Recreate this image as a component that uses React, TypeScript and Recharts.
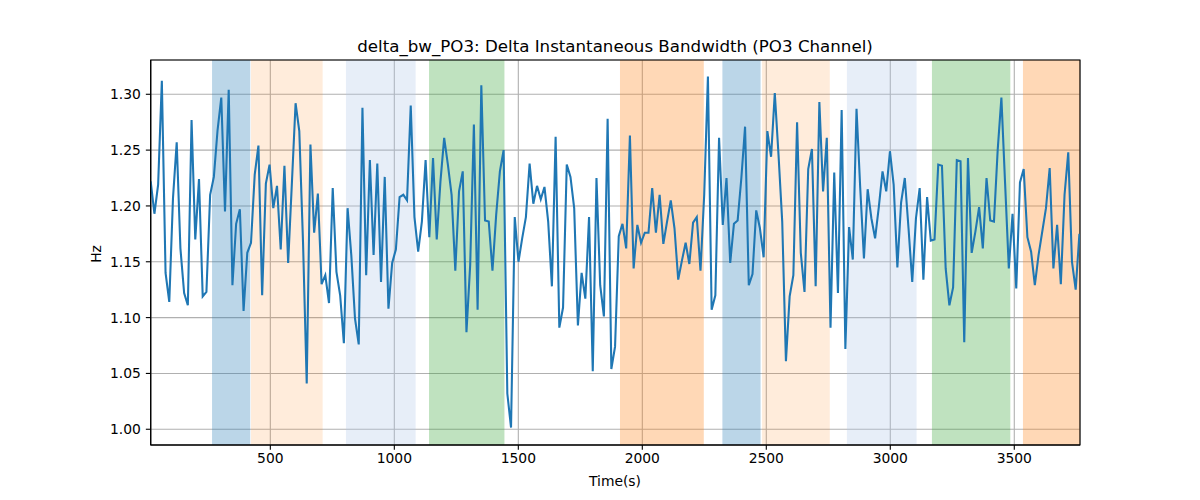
import React from "react";
import { LineChart, Line, XAxis, YAxis, CartesianGrid, ReferenceArea } from "recharts";

const bandwidth: number[] = [
  1.222, 1.193, 1.219, 1.312, 1.140, 1.114, 1.207, 1.257, 1.162, 1.122,
  1.111, 1.277, 1.170, 1.224, 1.119, 1.123, 1.210, 1.226, 1.268, 1.297,
  1.195, 1.304, 1.129, 1.184, 1.197, 1.106, 1.158, 1.167, 1.228, 1.254,
  1.120, 1.220, 1.237, 1.198, 1.218, 1.161, 1.236, 1.149, 1.220, 1.292,
  1.267, 1.168, 1.041, 1.255, 1.176, 1.211, 1.130, 1.138, 1.113, 1.216,
  1.141, 1.120, 1.077, 1.198, 1.156, 1.099, 1.076, 1.288, 1.138, 1.241,
  1.156, 1.238, 1.132, 1.226, 1.108, 1.149, 1.161, 1.208, 1.210, 1.205,
  1.290, 1.190, 1.159, 1.186, 1.241, 1.172, 1.243, 1.170, 1.222, 1.261,
  1.237, 1.210, 1.142, 1.213, 1.231, 1.087, 1.147, 1.273, 1.107, 1.308,
  1.187, 1.186, 1.142, 1.192, 1.231, 1.250, 1.032, 1.0015, 1.190, 1.150,
  1.171, 1.190, 1.238, 1.202, 1.218, 1.206, 1.217, 1.186, 1.128, 1.262,
  1.091, 1.109, 1.237, 1.226, 1.198, 1.093, 1.140, 1.117, 1.190, 1.052,
  1.225, 1.129, 1.101, 1.278, 1.054, 1.074, 1.173, 1.184, 1.162, 1.263,
  1.144, 1.183, 1.167, 1.176, 1.176, 1.216, 1.176, 1.210, 1.166, 1.186,
  1.205, 1.180, 1.134, 1.151, 1.167, 1.148, 1.185, 1.190, 1.142, 1.210,
  1.316, 1.107, 1.120, 1.261, 1.183, 1.225, 1.149, 1.184, 1.187, 1.225,
  1.271, 1.129, 1.139, 1.196, 1.180, 1.154, 1.267, 1.244, 1.301, 1.246,
  1.186, 1.061, 1.119, 1.138, 1.275, 1.158, 1.123, 1.233, 1.251, 1.128,
  1.293, 1.213, 1.261, 1.091, 1.230, 1.122, 1.286, 1.072, 1.181, 1.152,
  1.287, 1.216, 1.153, 1.215, 1.189, 1.171, 1.199, 1.231, 1.213, 1.249,
  1.219, 1.145, 1.203, 1.225, 1.180, 1.132, 1.189, 1.216, 1.134, 1.208,
  1.169, 1.170, 1.237, 1.236, 1.144, 1.111, 1.127, 1.241, 1.240, 1.078,
  1.243, 1.158, 1.177, 1.199, 1.162, 1.225, 1.187, 1.186, 1.250, 1.297,
  1.220, 1.144, 1.193, 1.126, 1.221, 1.233, 1.172, 1.159, 1.129, 1.156,
  1.177, 1.198, 1.234, 1.144, 1.183, 1.130, 1.210, 1.248, 1.150, 1.125,
  1.175,
];

const startTime = 17.6;
const sampleStep = 14.98;
const times: number[] = bandwidth.map((_, i) => startTime + i * sampleStep);

const xTicks: number[] = [500, 1000, 1500, 2000, 2500, 3000, 3500];
const yTicks: number[] = [1.0, 1.05, 1.1, 1.15, 1.2, 1.25, 1.3];
const xDomain: [number, number] = [17.6, 3765];
const yDomain: [number, number] = [0.9859, 1.3307];

const spanStarts: number[] = [265, 422, 805, 1140, 1910, 2323, 2483, 2825, 3168, 3535];
const spanEnds: number[] = [419, 711, 1086, 1444, 2248, 2477, 2756, 3106, 3484, 3765];
const spanColors: string[] = ["#1f77b4", "#ff7f0e", "#aec7e8", "#2ca02c", "#ff7f0e", "#1f77b4", "#ff7f0e", "#aec7e8", "#2ca02c", "#ff7f0e"];
const spanAlphas: number[] = [0.3, 0.15, 0.3, 0.3, 0.3, 0.3, 0.15, 0.3, 0.3, 0.3];

const data = times.map((t, i) => ({ t, v: bandwidth[i] }));

const FONT = "DejaVu Sans";

export default function App() {
  return (
    <div style={{ position: "relative", width: 1200, height: 500 }}>
      <LineChart
        width={1200}
        height={500}
        data={data}
        margin={{ top: 52, right: 128, bottom: 33, left: 82.7 }}
      >
        <CartesianGrid stroke="#b0b0b0" strokeWidth={1.1} />
        {spanStarts.map((s, i) => (
          <ReferenceArea
            key={i}
            x1={s}
            x2={spanEnds[i]}
            y1={yDomain[0]}
            y2={yDomain[1]}
            fill={spanColors[i]}
            fillOpacity={spanAlphas[i]}
            stroke="none"
            ifOverflow="hidden"
          />
        ))}
        <XAxis
          dataKey="t"
          type="number"
          domain={xDomain}
          ticks={xTicks}
          allowDataOverflow
          height={30}
          tickSize={4.86}
          tickMargin={3.5}
          stroke="#000"
          tick={{ fill: "#000", fontSize: 13.89, fontFamily: FONT }}
          tickLine={{ stroke: "#000", strokeWidth: 1.1 }}
          axisLine={{ stroke: "#000", strokeWidth: 1.1 }}
        />
        <YAxis
          type="number"
          domain={yDomain}
          ticks={yTicks}
          allowDataOverflow
          width={60}
          tickSize={4.86}
          tickMargin={5}
          tickFormatter={(v: number) => v.toFixed(2)}
          stroke="#000"
          tick={{ fill: "#000", fontSize: 13.89, fontFamily: FONT }}
          tickLine={{ stroke: "#000", strokeWidth: 1.1 }}
          axisLine={{ stroke: "#000", strokeWidth: 1.1 }}
        />
        <Line
          type="linear"
          dataKey="v"
          stroke="#1f77b4"
          strokeWidth={2.08}
          dot={false}
          isAnimationActive={false}
        />
        <ReferenceArea
          x1={xDomain[0]}
          x2={xDomain[1]}
          y1={yDomain[0]}
          y2={yDomain[1]}
          fill="none"
          stroke="#000"
          strokeWidth={1.1}
          ifOverflow="visible"
        />
      </LineChart>
      <svg
        width={1200}
        height={500}
        style={{ position: "absolute", left: 0, top: 0, pointerEvents: "none" }}
      >
        <text x={607} y={44} textAnchor="middle" fontFamily={FONT} fontSize={16.67} fill="#000">
          delta_bw_PO3: Delta Instantaneous Bandwidth (PO3 Channel)
        </text>
        <text x={607} y={478} textAnchor="middle" fontFamily={FONT} fontSize={13.89} fill="#000">
          Time(s)
        </text>
        <text
          x={92.5}
          y={246}
          textAnchor="middle"
          fontFamily={FONT}
          fontSize={13.89}
          fill="#000"
          transform="rotate(-90, 92.5, 246)"
        >
          Hz
        </text>
      </svg>
    </div>
  );
}
